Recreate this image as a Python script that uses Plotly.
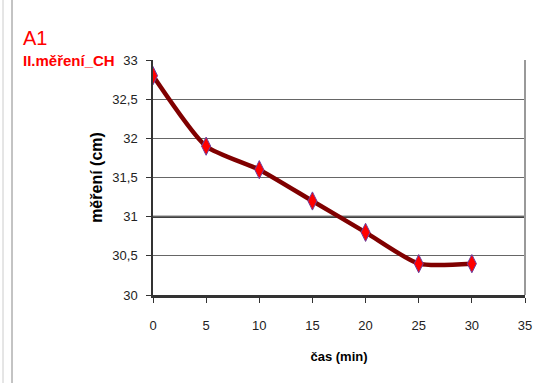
import plotly.graph_objects as go

cas = [0, 5, 10, 15, 20, 25, 30]
mereni = [32.8, 31.9, 31.6, 31.2, 30.8, 30.4, 30.4]
y_ticks = [30, 30.5, 31, 31.5, 32, 32.5, 33]
x_ticks = [0, 5, 10, 15, 20, 25, 30, 35]

fig = go.Figure()
fig.add_trace(go.Scatter(
    x=cas, y=mereni, mode="lines+markers",
    line=dict(color="#800000", width=4.5, shape="spline", smoothing=0.6),
    marker=dict(symbol="diamond-tall", size=13, color="#ff0000",
                line=dict(color="#6a3fa0", width=1)),
    showlegend=False,
))

fig.add_shape(type="line", xref="paper", x0=0, x1=1, yref="y", y0=31, y1=31,
              line=dict(color="#000000", width=2), layer="below")

sans = "Liberation Sans, Arial"
W, H = 372, 235
fig.update_layout(
    width=533, height=383,
    margin=dict(l=153, r=8, t=60, b=88, autoexpand=False),
    paper_bgcolor="white", plot_bgcolor="white",
    separators=", ",
    font=dict(family=sans, size=12, color="#000"),
    xaxis=dict(range=[0, 35], tickvals=x_ticks, showgrid=False, zeroline=False,
               automargin=False,
               showline=True, linecolor="#333", linewidth=2.5,
               ticks="outside", ticklen=5, tickcolor="#333",
               ticklabelstandoff=12,
               tickfont=dict(family=sans, size=13, color="#222"),
               title=dict(text="<b>čas (min)</b>", font=dict(family=sans, size=13), standoff=20)),
    yaxis=dict(range=[30, 33], tickvals=y_ticks, showgrid=True, gridcolor="#666", gridwidth=1,
               zeroline=False, showline=True, linecolor="#333", linewidth=1.5,
               automargin=False,
               ticks="outside", ticklen=5, tickcolor="#333",
               ticklabelstandoff=6,
               tickfont=dict(family=sans, size=13, color="#222"),
               title=dict(text="<b>měření (cm)</b>", font=dict(family=sans, size=16), standoff=6)),
)

fig.add_shape(type="line", xref="paper", x0=1, x1=1, yref="paper", y0=0, y1=1,
              line=dict(color="#999", width=2))

fig.add_annotation(text="A1", xref="paper", yref="paper", x=(21 - 153) / W, y=(295 - 38) / H,
                   xanchor="left", yanchor="middle", showarrow=False,
                   font=dict(family=sans, size=20, color="#ff0000"))
fig.add_annotation(text="<b>II.měření_CH</b>", xref="paper", yref="paper", x=(21 - 153) / W, y=(295 - 60) / H,
                   xanchor="left", yanchor="middle", showarrow=False,
                   font=dict(family=sans, size=15, color="#ff0000"))

fig.add_shape(type="line", xref="paper", yref="paper", x0=(3 - 153) / W, x1=(3 - 153) / W,
              y0=-88 / H, y1=1 + 60 / H, line=dict(color="#ccc", width=1))
fig.add_shape(type="line", xref="paper", yref="paper", x0=(12 - 153) / W, x1=(12 - 153) / W,
              y0=-88 / H, y1=1 + 60 / H, line=dict(color="#888", width=1))

fig.write_html("out.html")
